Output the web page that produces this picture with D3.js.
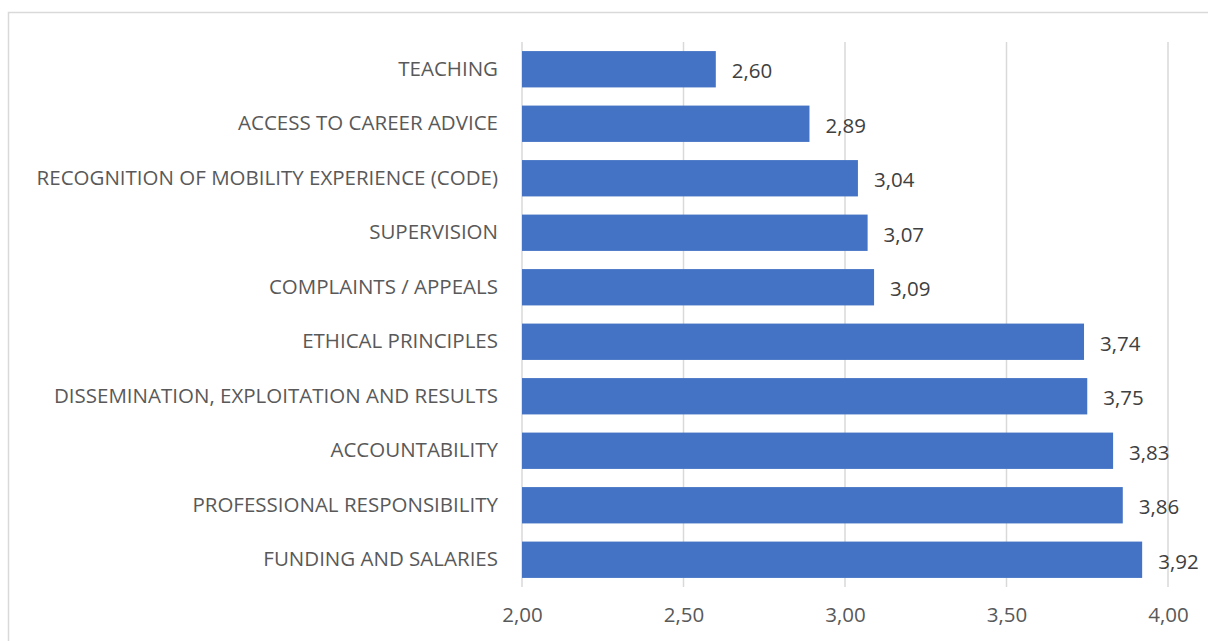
<!DOCTYPE html>
<html>
<head>
<meta charset="utf-8">
<script src="https://cdn.jsdelivr.net/npm/d3@7"></script>
<style>
  html, body { margin: 0; padding: 0; background: #fff; }
  svg text { font-family: "Open Sans", "Noto Sans", sans-serif; }
</style>
</head>
<body>
<div id="chart"></div>
<script>
// chart data
var categories = [
  "TEACHING",
  "ACCESS TO CAREER ADVICE",
  "RECOGNITION OF MOBILITY EXPERIENCE (CODE)",
  "SUPERVISION",
  "COMPLAINTS / APPEALS",
  "ETHICAL PRINCIPLES",
  "DISSEMINATION, EXPLOITATION AND RESULTS",
  "ACCOUNTABILITY",
  "PROFESSIONAL RESPONSIBILITY",
  "FUNDING AND SALARIES"
];
var values = [2.60, 2.89, 3.04, 3.07, 3.09, 3.74, 3.75, 3.83, 3.86, 3.92];
var xTicks = [2.0, 2.5, 3.0, 3.5, 4.0];

var W = 1208, H = 641;
var margin = {top: 42, right: 40, bottom: 54, left: 522};
var width = 1168 - margin.left,
    height = 587 - margin.top;

var fmt = function(v) { return d3.format(".2f")(v).replace(".", ","); };

var svg = d3.select("#chart")
  .append("svg")
  .attr("width", W)
  .attr("height", H);

// chart frame
svg.append("rect")
  .attr("x", 8.5).attr("y", 12.5)
  .attr("width", W + 20).attr("height", H + 20)
  .attr("fill", "none")
  .attr("stroke", "#d9d9d9")
  .attr("stroke-width", 1.5);

var g = svg.append("g")
  .attr("transform", "translate(" + margin.left + "," + margin.top + ")");

var data = categories.map(function(c, i) { return {cat: c, value: values[i]}; });

var x = d3.scaleLinear().domain([2, 4]).range([0, width]);
var y = d3.scaleBand()
  .domain(categories)
  .range([0, height])
  .paddingInner(1 / 3)
  .paddingOuter(1 / 6);

// gridlines
g.append("g").selectAll("line")
  .data(xTicks)
  .enter().append("line")
  .attr("x1", function(d) { return x(d); })
  .attr("x2", function(d) { return x(d); })
  .attr("y1", 0)
  .attr("y2", height)
  .attr("stroke", "#d9d9d9")
  .attr("stroke-width", 1.5);

// bars
g.append("g").selectAll("rect")
  .data(data)
  .enter().append("rect")
  .attr("x", x(2))
  .attr("y", function(d) { return y(d.cat); })
  .attr("width", function(d) { return x(d.value) - x(2); })
  .attr("height", y.bandwidth())
  .attr("fill", "#4472c4");

// value labels
g.append("g").selectAll("text")
  .data(data)
  .enter().append("text")
  .attr("x", function(d) { return x(d.value) + 16; })
  .attr("y", function(d) { return y(d.cat) + y.bandwidth() / 2 + 2; })
  .attr("dy", "0.35em")
  .attr("fill", "#404040")
  .style("font-size", "20.5px")
  .text(function(d) { return fmt(d.value); });

// category axis
var yAxis = g.append("g").call(d3.axisLeft(y).tickSize(0).tickPadding(24));
yAxis.select(".domain").remove();
yAxis.selectAll("text")
  .attr("fill", "#595959")
  .style("font-size", "20.5px");

// value axis
var xAxis = g.append("g")
  .attr("transform", "translate(0," + height + ")")
  .call(d3.axisBottom(x).tickValues(xTicks).tickSize(0).tickPadding(20).tickFormat(fmt));
xAxis.select(".domain").remove();
xAxis.selectAll("text")
  .attr("fill", "#595959")
  .style("font-size", "20.5px");
</script>
</body>
</html>
